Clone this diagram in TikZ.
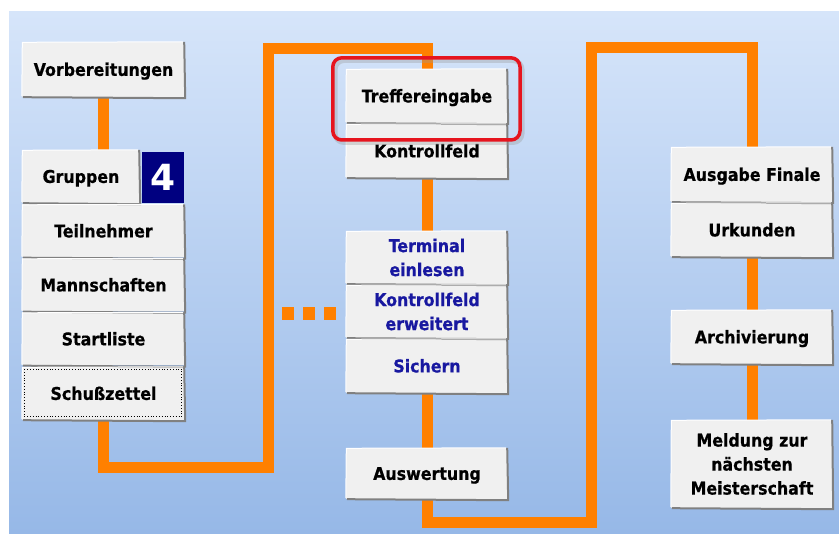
\documentclass[tikz,border=0pt]{standalone}
\usepackage{fontspec}
\newfontfamily\btnfont{DejaVu Sans Condensed}[BoldFeatures={FakeBold=0.6}]
\newfontfamily\numfont{DejaVu Sans}
\usetikzlibrary{calc}
\definecolor{bgtop}{RGB}{214,229,250}
\definecolor{bgbot}{RGB}{150,184,231}
\definecolor{flowc}{RGB}{255,128,0}
\definecolor{btnfill}{RGB}{240,240,240}
\definecolor{btnshade}{RGB}{128,128,128}
\definecolor{navybox}{RGB}{0,0,128}
\definecolor{btnblue}{RGB}{24,24,160}
\definecolor{hilite}{RGB}{230,20,30}
\pgfdeclarelayer{bg}
\pgfdeclarelayer{lines}
\pgfsetlayers{bg,lines,main}
\tikzset{
  btn/.style={fill=btnfill, inner sep=0pt, anchor=center,
    font=\btnfont\bfseries\fontsize{17.6}{24}\selectfont, text=black},
  oneline/.style={text height=12.8pt, text depth=0pt},
  twoline/.style={align=center},
  bluetext/.style={text=btnblue},
  flow/.style={draw=flowc, line width=11pt, line join=miter, line cap=butt},
  edgedark/.style={draw=btnshade, line width=2pt},
  edgelight/.style={draw=white, line width=1pt},
}
\newcommand{\btnedges}[1]{%
  \draw[edgedark] ([xshift=1pt]#1.south west) -- ([yshift=-1pt]#1.south east) -- ([xshift=-1pt]#1.north east);
  \draw[edgelight] ([yshift=1pt]#1.south west) -- ([xshift=0.5pt,yshift=-0.5pt]#1.north west) -- ([xshift=-2pt]#1.north east);
}
\begin{document}
\begin{tikzpicture}[x=1pt,y=-1pt]
\useasboundingbox (0,0) rectangle (839,534);
\begin{pgfonlayer}{bg}
  \fill[white] (0,0) rectangle (839,534);
  \shade[top color=bgtop, bottom color=bgbot] (9,12) rectangle (839,534);
\end{pgfonlayer}

% left column
\node[btn, oneline, minimum width=163pt, minimum height=55pt] (vorb) at (103.5,69.5) {Vorbereitungen};
\node[btn, oneline, minimum width=118pt, minimum height=53pt] (grp) at (81,176.5) {Gruppen};
\node[fill=navybox, inner sep=0pt, minimum width=42pt, minimum height=51pt, text=white,
  font=\numfont\bfseries\fontsize{36}{36}\selectfont, text height=26pt, text depth=0pt] (four) at (163,177.5) {4};
\node[btn, oneline, minimum width=163pt, minimum height=53pt] (teil) at (103.5,231) {Teilnehmer};
\node[btn, oneline, minimum width=163pt, minimum height=53pt] (mann) at (103.5,285) {Mannschaften};
\node[btn, oneline, minimum width=163pt, minimum height=53pt] (start) at (103.5,339) {Startliste};
\node[btn, oneline, minimum width=163pt, minimum height=53pt] (schuss) at (103.5,393.5) {Schußzettel};
\draw[black, line width=0.8pt, dotted] ([xshift=2.5pt,yshift=-2.5pt]schuss.north west) rectangle ([xshift=-3.5pt,yshift=3.5pt]schuss.south east);

% middle column
\node[btn, oneline, minimum width=162pt, minimum height=54pt] (treff) at (427,96) {Treffereingabe};
\node[btn, oneline, minimum width=162pt, minimum height=54pt] (kontr) at (427,151) {Kontrollfeld};
\node[btn, twoline, bluetext, minimum width=162pt, minimum height=53pt] (term) at (427,257.5) {Terminal\\einlesen};
\node[btn, twoline, bluetext, minimum width=162pt, minimum height=53pt] (kerw) at (427,311.5) {Kontrollfeld\\erweitert};
\node[btn, oneline, bluetext, minimum width=162pt, minimum height=54pt] (sich) at (427,366) {Sichern};
\node[btn, oneline, minimum width=162pt, minimum height=51pt] (ausw) at (427,473.5) {Auswertung};

% right column
\node[btn, oneline, minimum width=162pt, minimum height=55pt] (ausg) at (752,174.5) {Ausgabe Finale};
\node[btn, oneline, minimum width=162pt, minimum height=54pt] (urk) at (752,230) {Urkunden};
\node[btn, oneline, minimum width=162pt, minimum height=54pt] (arch) at (752,337) {Archivierung};
\node[btn, twoline, minimum width=162pt, minimum height=88pt] (meld) at (752,464) {Meldung zur\\nächsten\\Meisterschaft};

\foreach \n in {vorb,grp,teil,mann,start,schuss,treff,kontr,term,kerw,sich,ausw,ausg,urk,arch,meld}{\btnedges{\n}}

% connectors
\coordinate (a1) at (268,468);
\coordinate (a2) at (268,48.5);
\coordinate (b1) at (591,522.5);
\coordinate (b2) at (591,48);
\coordinate (d1) at (282,313.5);
\coordinate (d2) at (337,313.5);
\begin{pgfonlayer}{lines}
  \draw[flow] (vorb.south) -- (vorb.south |- grp.north);
  \draw[flow] (schuss.south) |- (a1) -- (a2) -| (kontr.south);
  \draw[flow] (kontr.south) -- (term.north);
  \draw[flow] (sich.south) -- (ausw.north);
  \draw[flow] (ausw.south) |- (b1) -- (b2) -| (ausg.north);
  \draw[flow] (urk.south) -- (arch.north);
  \draw[flow] (arch.south) -- (meld.north);
  \draw[flow, line width=13pt, dash pattern=on 12pt off 9pt] (d1) -- (d2);
\end{pgfonlayer}

% highlight
\draw[black!40, opacity=0.35, line width=5pt, rounded corners=9pt] (335,60.5) rectangle (522,142.5);
\draw[hilite, line width=3.5pt, rounded corners=9pt] (node cs:name=treff, anchor=north west) ++(-13,-11) coordinate (r1) rectangle (520,140) coordinate (r2);
\end{tikzpicture}
\end{document}
